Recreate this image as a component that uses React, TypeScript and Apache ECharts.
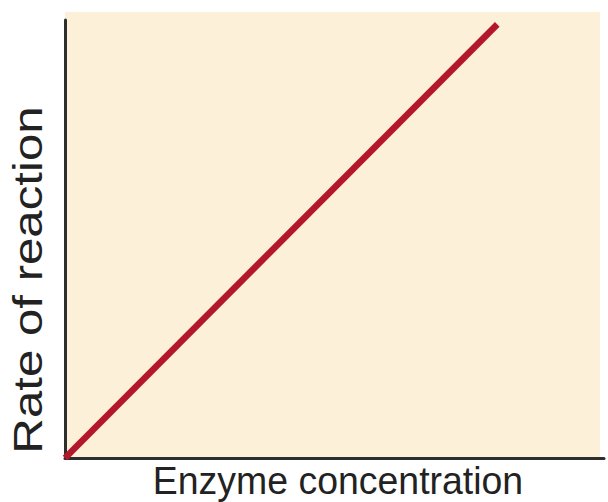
import React, { useEffect, useRef } from "react";
import * as echarts from "echarts";

const xName = "Enzyme concentration";
const yName = "Rate of reaction";
const lineX = [0, 8.1];
const lineY = [0, 9.9];

export default function App() {
  const ref = useRef<HTMLDivElement>(null);
  useEffect(() => {
    if (!ref.current) return;
    const chart = echarts.init(ref.current, null, { renderer: "svg" });
    chart.setOption({
      animation: false,
      backgroundColor: "#ffffff",
      grid: { left: 65, right: 4, top: 20, bottom: 44 },
      xAxis: {
        type: "value",
        min: 0,
        max: 10.1,
        axisLine: { show: true, lineStyle: { color: "#2e2e2e", width: 3 } },
        axisTick: { show: false },
        axisLabel: { show: false },
        splitLine: { show: false },
      },
      yAxis: {
        type: "value",
        min: 0,
        max: 10,
        axisLine: { show: true, lineStyle: { color: "#2e2e2e", width: 3 } },
        axisTick: { show: false },
        axisLabel: { show: false },
        splitLine: { show: false },
      },
      graphic: [
        {
          type: "rect",
          z: -10,
          silent: true,
          shape: { x: 65, y: 12, width: 535, height: 446 },
          style: { fill: "#FDF0D8" },
        },
        {
          type: "text",
          x: 338,
          y: 480,
          scaleX: 0.96,
          style: {
            text: xName,
            fontFamily: "Liberation Sans, Arial, sans-serif",
            fontSize: 39,
            fill: "#222222",
            textAlign: "center",
            textVerticalAlign: "middle",
          },
        },
        {
          type: "text",
          x: 28,
          y: 280,
          rotation: Math.PI / 2,
          scaleX: 1.23,
          style: {
            text: yName,
            fontFamily: "Liberation Sans, Arial, sans-serif",
            fontSize: 40,
            fill: "#222222",
            textAlign: "center",
            textVerticalAlign: "middle",
          },
        },
      ],
      series: [
        {
          type: "line",
          data: lineX.map((x, i) => [x, lineY[i]]),
          symbol: "none",
          lineStyle: { color: "#B3172B", width: 6.5 },
          clip: false,
        },
      ],
    });
    return () => chart.dispose();
  }, []);
  return (
    <div
      ref={ref}
      style={{ position: "fixed", left: 0, top: 0, width: 608, height: 502 }}
    />
  );
}
